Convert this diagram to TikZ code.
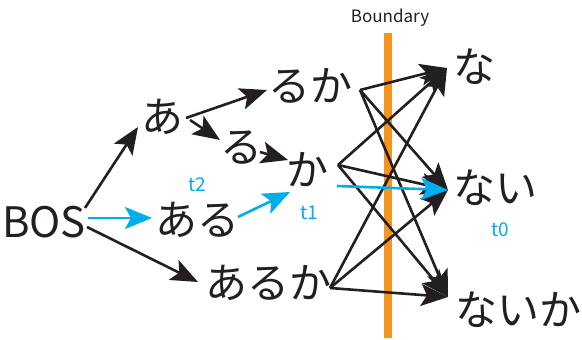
\documentclass[tikz,border=0pt]{standalone}
\usepackage{fontspec}
\newfontfamily\jp{Noto Sans CJK JP}
\usetikzlibrary{arrows.meta}
\definecolor{ink}{HTML}{231F20}
\definecolor{sky}{HTML}{00AEEF}
\definecolor{bar}{HTML}{F7941D}
\begin{document}
\begin{tikzpicture}[x=1pt,y=-1pt,
  word/.style={font=\jp\fontsize{42}{46}\selectfont, text=ink, inner sep=0pt, anchor=center},
  tag/.style={font=\jp\fontsize{19}{21}\selectfont, text=sky, inner sep=0pt},
  edge/.style={draw=ink, line width=2.6pt, -{Stealth[length=27pt,width=22pt,inset=6pt]}},
  bedge/.style={draw=sky, line width=2.6pt, -{Stealth[length=27pt,width=22pt,inset=6pt]}}]
\useasboundingbox (0,0) rectangle (582,340);
% boundary
\node[font=\jp\fontsize{17}{19}\selectfont, text=ink, inner sep=0pt] (blabel) at (390,18) {Boundary};
\coordinate (btop) at (388,33);
\coordinate (bbot) at (388,338);
\draw[bar, line width=8pt] (btop) -- (bbot);
% words
\node[word] (bos) at (44,222) {BOS};
\node[word] (a) at (162,117) {あ};
\node[word] (ruka) at (310,86) {るか};
\node[word] (ru) at (241,148) {る};
\node[word] (ka) at (307,170) {か};
\node[word] (aru) at (197,220) {ある};
\node[word] (aruka) at (268,283) {あるか};
\node[word] (na) at (474,67) {な};
\node[word] (nai) at (495,188) {ない};
\node[word] (naika) at (518,310) {ないか};
% tags
\node[tag] (t2) at (197,185) {t2};
\node[tag] (t1) at (309,213) {t1};
\node[tag] (t0) at (500,230) {t0};
% ports
\coordinate (bos1) at (85,208);
\coordinate (bos2) at (88,218);
\coordinate (bos3) at (87,227);
\coordinate (ain) at (138,127);
\coordinate (aout1) at (186,118);
\coordinate (aout2) at (190,120);
\coordinate (aruin) at (152,218);
\coordinate (arukain) at (198,282);
\coordinate (rukain) at (267,90);
\coordinate (ruin) at (220,140);
\coordinate (ruout) at (260,152);
\coordinate (kain1) at (288,160);
\coordinate (aruout) at (238,217);
\coordinate (kain2) at (290,192);
\coordinate (rukaout) at (360,90);
\coordinate (kaout) at (338,165);
\coordinate (kaoutb) at (337,186);
\coordinate (arukaout) at (330,288);
\coordinate (nain) at (447,68);
\coordinate (naiin) at (448,190);
\coordinate (naikain) at (448,297);
% left edges
\draw[edge] (bos1) -- (ain);
\draw[bedge] (bos2) -- (aruin);
\draw[edge] (bos3) -- (arukain);
\draw[edge] (aout1) -- (rukain);
\draw[edge] (aout2) -- (ruin);
\draw[edge] (ruout) -- (kain1);
\draw[bedge] (aruout) -- (kain2);
% right edges
\draw[edge] (rukaout) -- (nain);
\draw[edge] (rukaout) -- (naiin);
\draw[edge] (rukaout) -- (naikain);
\draw[edge] (kaout) -- (nain);
\draw[edge] (kaout) -- (naiin);
\draw[edge] (kaout) -- (naikain);
\draw[edge] (arukaout) -- (nain);
\draw[edge] (arukaout) -- (naiin);
\draw[edge] (arukaout) -- (naikain);
\draw[bedge] (kaoutb) -- (naiin);
\end{tikzpicture}
\end{document}
